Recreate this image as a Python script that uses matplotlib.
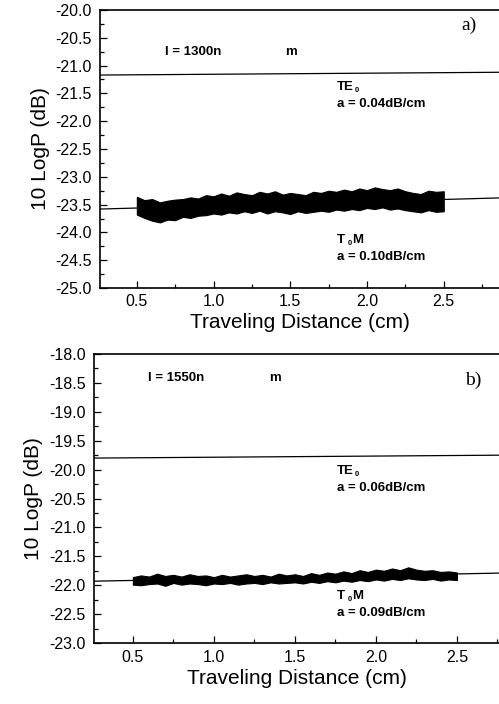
import matplotlib.pyplot as plt
from matplotlib.ticker import MultipleLocator, FormatStrFormatter

plt.rcParams['font.family'] = ['Liberation Sans', 'DejaVu Sans']

# traveling distance samples of the measured traces (cm)
dist = [0.50, 0.55, 0.60, 0.65, 0.70, 0.75, 0.80, 0.85, 0.90, 0.95,
        1.00, 1.05, 1.10, 1.15, 1.20, 1.25, 1.30, 1.35, 1.40, 1.45,
        1.50, 1.55, 1.60, 1.65, 1.70, 1.75, 1.80, 1.85, 1.90, 1.95,
        2.00, 2.05, 2.10, 2.15, 2.20, 2.25, 2.30, 2.35, 2.40, 2.45, 2.50]

# a) 1300 nm, TM trace envelope (dB)
tm_a_top = [-23.36, -23.42, -23.40, -23.46, -23.43, -23.41, -23.40, -23.37, -23.39, -23.33,
            -23.35, -23.30, -23.34, -23.28, -23.31, -23.33, -23.27, -23.30, -23.26, -23.32,
            -23.29, -23.31, -23.33, -23.27, -23.29, -23.25, -23.27, -23.23, -23.26, -23.21,
            -23.24, -23.19, -23.22, -23.24, -23.21, -23.26, -23.29, -23.31, -23.25, -23.27, -23.26]
tm_a_bot = [-23.68, -23.74, -23.79, -23.82, -23.77, -23.78, -23.72, -23.74, -23.70, -23.69,
            -23.66, -23.68, -23.64, -23.66, -23.62, -23.65, -23.61, -23.66, -23.62, -23.64,
            -23.67, -23.62, -23.65, -23.63, -23.61, -23.63, -23.59, -23.61, -23.58, -23.60,
            -23.56, -23.58, -23.55, -23.59, -23.57, -23.60, -23.62, -23.64, -23.60, -23.63, -23.62]

# b) 1550 nm, TM trace envelope (dB)
tm_b_top = [-21.86, -21.83, -21.85, -21.80, -21.84, -21.82, -21.85, -21.81, -21.84, -21.83,
            -21.86, -21.82, -21.85, -21.83, -21.81, -21.84, -21.82, -21.85, -21.80, -21.83,
            -21.81, -21.84, -21.79, -21.82, -21.78, -21.80, -21.76, -21.79, -21.74, -21.77,
            -21.73, -21.75, -21.71, -21.74, -21.69, -21.73, -21.75, -21.74, -21.77, -21.76, -21.78]
tm_b_bot = [-21.99, -22.00, -21.98, -21.97, -22.01, -21.96, -21.99, -21.97, -21.98, -22.00,
            -21.97, -21.98, -21.96, -21.99, -21.97, -21.96, -21.98, -21.95, -21.97, -21.96,
            -21.95, -21.97, -21.94, -21.96, -21.93, -21.95, -21.92, -21.94, -21.91, -21.93,
            -21.90, -21.92, -21.89, -21.91, -21.88, -21.90, -21.91, -21.89, -21.92, -21.90, -21.91]

# fitted straight lines (end points)
fit_x_a = [0.26, 2.86]
te_fit_a = [-21.17, -21.12]
tm_fit_a = [-23.58, -23.38]
fit_x_b = [0.26, 2.76]
te_fit_b = [-19.80, -19.75]
tm_fit_b = [-21.93, -21.79]

fig = plt.figure(figsize=(4.99, 7.04), dpi=100)
ax_a = fig.add_axes([0.2004, 0.5909, 0.7996, 0.3949])
ax_b = fig.add_axes([0.1884, 0.0866, 0.8116, 0.4105])


def style(ax, ylim, xlim):
    ax.set_xlim(*xlim)
    ax.set_ylim(*ylim)
    ax.spines['right'].set_visible(False)
    for s in ['left', 'bottom', 'top']:
        ax.spines[s].set_linewidth(1.2)
    ax.xaxis.set_major_locator(MultipleLocator(0.5))
    ax.xaxis.set_minor_locator(MultipleLocator(0.25))
    ax.yaxis.set_major_locator(MultipleLocator(0.5))
    ax.yaxis.set_minor_locator(MultipleLocator(0.25))
    ax.yaxis.set_major_formatter(FormatStrFormatter('%.1f'))
    ax.xaxis.set_major_formatter(FormatStrFormatter('%.1f'))
    ax.tick_params(which='both', direction='in', top=False, right=False,
                   labelsize=11.5, width=0.9)
    ax.tick_params(which='major', length=5)
    ax.tick_params(which='minor', length=3)
    ax.tick_params(axis='y', pad=6)
    ax.set_ylabel('10 LogP (dB)', fontsize=15, labelpad=4)
    ax.set_xlabel('Traveling Distance (cm)', fontsize=15, labelpad=3)


style(ax_a, (-25.0, -20.0), (0.26, 2.86))
style(ax_b, (-23.0, -18.0), (0.26, 2.76))
ax_a.tick_params(axis='x', pad=4)
ax_b.tick_params(axis='x', pad=5)

# panel a
ax_a.plot(fit_x_a, te_fit_a, color='black', lw=0.9)
ax_a.plot(fit_x_a, tm_fit_a, color='black', lw=0.9)
ax_a.fill_between(dist, tm_a_bot, tm_a_top, color='black', lw=0.8)

# panel b
ax_b.plot(fit_x_b, te_fit_b, color='black', lw=0.9)
ax_b.plot(fit_x_b, tm_fit_b, color='black', lw=0.9)
ax_b.fill_between(dist, tm_b_bot, tm_b_top, color='black', lw=0.8)

bold = dict(fontsize=9.5, fontweight='bold', va='center', ha='left')
sub = dict(fontsize=5.5, fontweight='bold', va='center', ha='left')


def put(ax, s, xy, dx, dy, kw):
    ax.annotate(s, xy=xy, xycoords='axes fraction', xytext=(dx, dy),
                textcoords='offset points', **kw)


def labels(ax, wl, tag, te_y, tm_y, te_loss, tm_loss, wl_xy, tag_xy, xm):
    t = ax.transAxes
    ax.text(wl_xy[0], wl_xy[1], 'l = %sn' % wl, transform=t, **bold)
    ax.text(wl_xy[0] + 0.3, wl_xy[1], 'm', transform=t, **bold)
    ax.text(tag_xy[0], tag_xy[1], tag, transform=t, fontsize=14,
            family=['Liberation Serif', 'DejaVu Serif'], va='center', ha='left')
    put(ax, 'TE', (xm, te_y), 0, 0, bold)
    put(ax, '0', (xm, te_y), 12.5, -2.5, sub)
    put(ax, 'a = %s' % te_loss, (xm, te_y), 0, -12, bold)
    put(ax, 'T', (xm, tm_y), 0, 0, bold)
    put(ax, '0', (xm, tm_y), 7.5, -2.5, sub)
    put(ax, 'M', (xm, tm_y), 11, 0, bold)
    put(ax, 'a = %s' % tm_loss, (xm, tm_y), 0, -12, bold)


labels(ax_a, '1300', 'a)', 0.722, 0.172, '0.04dB/cm', '0.10dB/cm',
       (0.163, 0.849), (0.905, 0.946), 0.594)
labels(ax_b, '1550', 'b)', 0.594, 0.162, '0.06dB/cm', '0.09dB/cm',
       (0.133, 0.917), (0.915, 0.91), 0.600)

fig.savefig('out.png', dpi=100)
